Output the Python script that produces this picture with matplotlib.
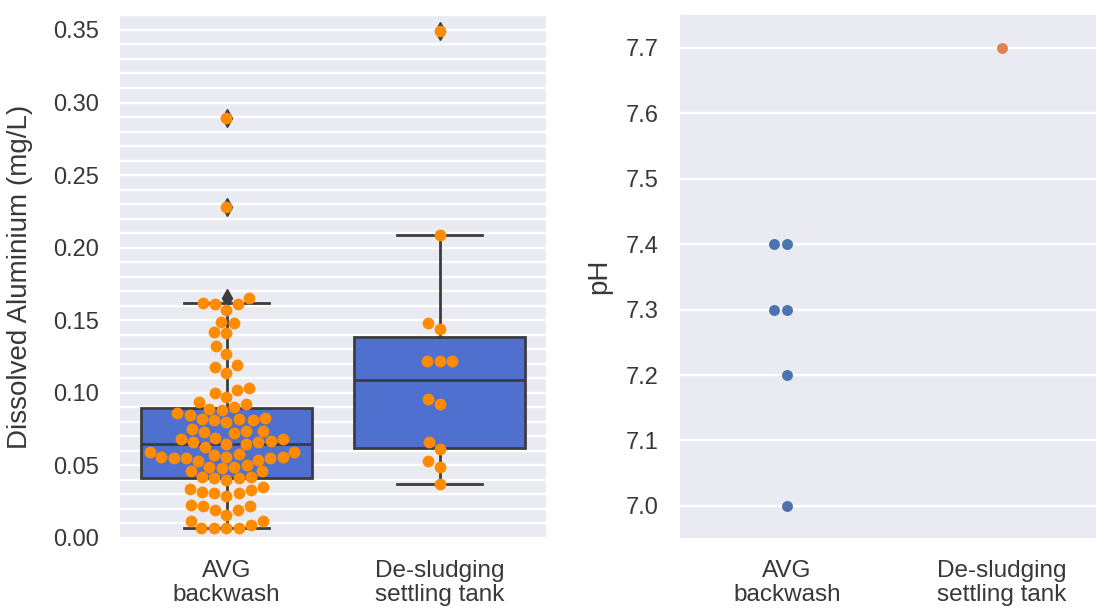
import numpy as np
import matplotlib
matplotlib.use("Agg")
import matplotlib.pyplot as plt
from matplotlib.ticker import MultipleLocator, FormatStrFormatter

# ---- data ----
categories = ["AVG\nbackwash", "De-sludging\nsettling tank"]

al_backwash = [
    0.289, 0.228, 0.165,
    0.162, 0.161, 0.161, 0.157, 0.149, 0.148, 0.142, 0.141, 0.132, 0.127, 0.119, 0.118, 0.114,
    0.103, 0.102, 0.100, 0.097,
    0.094, 0.092, 0.090, 0.089, 0.088,
    0.086, 0.085, 0.083, 0.082, 0.082, 0.081, 0.081, 0.080,
    0.075, 0.074, 0.074, 0.073, 0.072,
    0.069, 0.068, 0.068, 0.067, 0.066, 0.066, 0.065, 0.065, 0.063,
    0.059, 0.059, 0.058, 0.057, 0.056, 0.056, 0.056, 0.055, 0.055, 0.055,
    0.054, 0.053, 0.050, 0.049, 0.049, 0.048, 0.046,
    0.046, 0.042, 0.042, 0.041, 0.041, 0.040,
    0.035, 0.034, 0.033, 0.032, 0.031, 0.031, 0.029,
    0.023, 0.022, 0.022, 0.019, 0.019, 0.016,
    0.012, 0.012, 0.009, 0.007, 0.007, 0.007, 0.007,
]
al_settling = [0.349, 0.209, 0.148, 0.144, 0.122, 0.122, 0.122,
               0.096, 0.092, 0.066, 0.061, 0.053, 0.049, 0.037]

ph_backwash = [7.4, 7.4, 7.3, 7.3, 7.2, 7.0]
ph_settling = [7.7]

# ---- style ----
plt.rcParams["font.family"] = ["Liberation Sans", "DejaVu Sans"]
text_col = "#383838"
bg = "#eaeaf2"
line_col = "#3d3d3d"


def beeswarm(ax, values, center, size_px):
    """x positions (data units) for a swarm around `center`, packed in pixel space"""
    vals = np.asarray(values, float)
    pts = ax.transData.transform(np.column_stack([np.full(len(vals), center), vals]))
    x0 = pts[0, 0]
    xs = np.empty(len(vals))
    placed = []
    for i in np.argsort(vals, kind="stable"):
        y = pts[i, 1]
        nb = [(px, py) for px, py in placed if abs(py - y) < size_px]
        cands = [x0]
        for px, py in nb:
            dx = np.sqrt(size_px ** 2 - (py - y) ** 2) * 1.001
            cands += [px - dx, px + dx]
        cands.sort(key=lambda c: (round(abs(c - x0), 6), c))
        for c in cands:
            if all((c - px) ** 2 + (y - py) ** 2 >= size_px ** 2 * 0.999 for px, py in nb):
                break
        placed.append((c, y))
        xs[i] = c
    return ax.transData.inverted().transform(np.column_stack([xs, pts[:, 1]]))[:, 0]


W, H = 1096, 609
fig = plt.figure(figsize=(W / 100, H / 100), dpi=100)
ax1 = fig.add_axes([120 / W, (H - 538) / H, 426 / W, 523 / H])
ax2 = fig.add_axes([679.5 / W, (H - 538) / H, 430 / W, 523 / H])

for ax in (ax1, ax2):
    ax.set_facecolor(bg)
    for s in ax.spines.values():
        s.set_visible(False)
    ax.set_axisbelow(True)
    ax.tick_params(which="both", length=0, colors=text_col)
    ax.tick_params(axis="y", pad=15, labelsize=17)
    ax.tick_params(axis="x", pad=16)
    ax.set_xlim(-0.5, 1.5)

# ---- left: dissolved aluminium ----
ax1.set_ylim(0, 0.3603)
ax1.yaxis.set_major_locator(MultipleLocator(0.05))
ax1.yaxis.set_minor_locator(MultipleLocator(0.01))
ax1.yaxis.set_major_formatter(FormatStrFormatter("%.2f"))
ax1.grid(axis="y", which="both", color="white", linewidth=1.7)
ax1.grid(axis="x", visible=False)

bp = ax1.boxplot([al_backwash, al_settling], positions=[0, 1], widths=0.8,
                 whis=1.5, patch_artist=True, manage_ticks=False,
                 boxprops=dict(facecolor="#5070d0", edgecolor=line_col, linewidth=2),
                 medianprops=dict(color=line_col, linewidth=2),
                 whiskerprops=dict(color=line_col, linewidth=2),
                 capprops=dict(color=line_col, linewidth=2),
                 flierprops=dict(marker="d", markerfacecolor=line_col,
                                 markeredgecolor=line_col, markersize=9))
for cap in bp["caps"]:
    mid = cap.get_xdata().mean()
    cap.set_xdata([mid - 0.2, mid + 0.2])

for i, vals in enumerate([al_backwash, al_settling]):
    xs = beeswarm(ax1, vals, i, 12.5)
    ax1.scatter(xs, vals, s=72, color="#ff8c00", linewidth=0, zorder=4)

ax1.set_xticks([0, 1])
ax1.set_xticklabels(categories, fontsize=17.5, linespacing=1.08, color=text_col)
ax1.set_ylabel("Dissolved Aluminium (mg/L)", fontsize=20, color=text_col)
ax1.yaxis.set_label_coords(-0.205, 0.5)

# ---- right: pH ----
ax2.set_ylim(6.951, 7.750)
ax2.yaxis.set_major_locator(MultipleLocator(0.1))
ax2.yaxis.set_major_formatter(FormatStrFormatter("%.1f"))
ax2.grid(axis="y", color="white", linewidth=1.7)
ax2.grid(axis="x", visible=False)

for i, (vals, col) in enumerate([(ph_backwash, "#4c72b0"), (ph_settling, "#dd8452")]):
    xs = beeswarm(ax2, vals, i, 13)
    ax2.scatter(xs, vals, s=62, color=col, linewidth=0, zorder=4)

ax2.set_xticks([0, 1])
ax2.set_xticklabels(categories, fontsize=17.5, linespacing=1.08, color=text_col)
ax2.set_ylabel("pH", fontsize=20, color=text_col)
ax2.yaxis.set_label_coords(-0.157, 0.5)

fig.savefig("out.png", dpi=100, facecolor="white")
